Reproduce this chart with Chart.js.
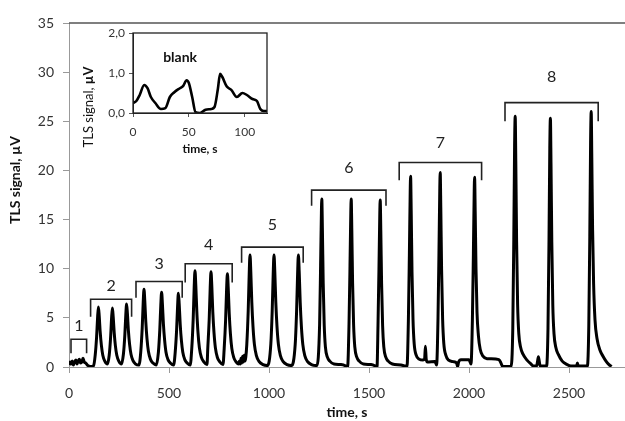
<!DOCTYPE html>
<html>
<head>
<meta charset="utf-8">
<script src="https://cdn.jsdelivr.net/npm/chart.js@4/dist/chart.umd.min.js"></script>
<style>
  body { margin: 0; background: #fff; }
  #wrap { position: relative; width: 625px; height: 421px; }
  #inset { position: absolute; left: 75px; top: 20px; }
</style>
</head>
<body>
<div id="wrap">
  <canvas id="main" width="625" height="421"></canvas>
  <canvas id="inset" width="200" height="140"></canvas>
</div>
<script>
// main trace, [time s, signal µV], one array per concentration group
const trace1 = [[0,0.2],[5,0.5],[10,0.3],[16,0.6],[22,0.2],[28,0.5],[35,0.7],[40,0.3],[46,0.6],[52,0.8],[58,0.4],[64,0.5],[70,0.9],[76,0.5],[84,0.4],[92,0.2],[100,0.1],[112,0.05],[123,0.15]];
const trace2 = [
  [131,1.2],[138,3.05],[143,5.05],[147,6.1],[151,5.2],[156,3.55],[162,2.2],[169,1.2],[179,0.6],[192,0.3],
  [201,1.2],[208,3.0],[213,5.0],[217,6.0],[221,5.1],[226,3.5],[232,2.15],[239,1.2],[249,0.6],[262,0.3],
  [272,1.3],[279,3.2],[284,5.3],[288,6.4],[292,5.45],[297,3.7],[303,2.3],[310,1.3],[320,0.65],[333,0.3],[350,0.2]];
const trace3 = [
  [359,1.6],[366,3.95],[371,6.55],[375,7.9],[379,6.7],[384,4.6],[390,2.85],[397,1.6],[407,0.8],[420,0.4],[436,0.2],
  [447,1.5],[454,3.8],[459,6.3],[463,7.6],[467,6.45],[472,4.4],[478,2.75],[485,1.5],[495,0.75],[508,0.38],[523,0.2],
  [531,1.5],[538,3.75],[543,6.2],[547,7.5],[551,6.4],[556,4.35],[562,2.7],[569,1.5],[579,0.75],[592,0.38],[606,0.2]];
const trace4 = [
  [614,1.95],[621,4.9],[626,8.15],[630,9.8],[634,8.3],[639,5.7],[645,3.5],[652,1.95],[662,0.98],[675,0.5],[690,0.25],
  [694,1.95],[701,4.85],[706,8.05],[710,9.7],[714,8.25],[719,5.6],[725,3.5],[732,1.95],[742,0.97],[755,0.5],[770,0.25],
  [776,1.9],[783,4.75],[788,7.9],[792,9.5],[796,8.1],[801,5.5],[807,3.4],[814,1.9],[824,0.95],[837,0.48],[848,0.3],
  [852,0.6],[856,0.3],[860,0.9],[864,0.4],[868,1.1],[872,0.5],[876,1.2],[880,0.6],[884,1.0]];
const trace5 = [
  [889,2.3],[896,5.7],[901,9.45],[905,11.4],[909,9.7],[914,6.6],[920,4.1],[927,2.3],[937,1.15],[950,0.57],[970,0.25],[993,0.15],
  [1009,2.3],[1016,5.7],[1021,9.45],[1025,11.4],[1029,9.7],[1034,6.6],[1040,4.1],[1047,2.3],[1057,1.15],[1070,0.57],[1090,0.25],[1113,0.15],
  [1131,2.3],[1138,5.7],[1143,9.45],[1147,11.4],[1151,9.7],[1156,6.6],[1162,4.1],[1169,2.3],[1179,1.15],[1192,0.57],[1212,0.25],[1240,0.15]];
const trace6 = [
  [1253,4.3],[1258,10.3],[1262,15.7],[1264,17.1],[1267,14.0],[1271,8.55],[1276,4.3],[1282,2.05],[1292,1.0],[1304,0.6],[1325,0.3],[1360,0.25],[1385,0.1],[1393,0.0],
  [1400,4.3],[1405,10.3],[1409,15.7],[1411,17.1],[1414,14.0],[1418,8.55],[1423,4.3],[1429,2.05],[1439,1.0],[1451,0.6],[1472,0.3],[1510,0.25],[1532,0.1],[1540,0.0],
  [1545,4.25],[1550,10.2],[1554,15.6],[1556,17.0],[1559,13.9],[1563,8.5],[1568,4.25],[1574,2.05],[1584,1.0],[1596,0.6],[1617,0.3],[1660,0.2],[1680,0.1],[1690,0.05]];
const trace7 = [
  [1697,4.85],[1702,11.6],[1706,17.8],[1708,19.4],[1711,15.9],[1715,9.7],[1720,4.85],[1726,2.35],[1736,1.2],[1750,0.8],[1770,0.7],[1778,0.8],[1782,2.1],[1786,0.8],[1792,0.5],[1830,0.55],[1838,0.2],
  [1845,4.95],[1850,11.9],[1854,18.2],[1856,19.8],[1859,16.2],[1863,9.9],[1868,4.95],[1874,2.4],[1884,1.2],[1898,0.7],[1920,0.55],[1938,0.4],[1943,0.05],[1948,0.5],[1960,0.75],[2000,0.75],[2010,0.3],
  [2017,4.8],[2022,11.6],[2026,17.8],[2028,19.3],[2031,15.8],[2035,10.0],[2040,5.6],[2047,3.2],[2056,1.8],[2070,1.1],[2090,0.85],[2150,0.75],[2160,0.4],[2168,0.05],[2210,0.05]];
const trace8 = [
  [2219,4.0],[2224,13.0],[2228,22.5],[2231,25.5],[2234,20.9],[2238,12.8],[2243,6.4],[2249,3.4],[2258,2.0],[2270,1.3],[2290,0.7],[2310,0.3],[2322,0.1],[2338,0.1],[2343,0.6],[2347,1.05],[2351,0.6],[2356,0.1],[2388,0.1],
  [2395,4.0],[2400,12.9],[2404,22.3],[2407,25.3],[2410,20.7],[2414,12.7],[2419,6.3],[2425,3.4],[2434,2.0],[2446,1.3],[2466,0.6],[2490,0.25],[2510,0.1],[2538,0.1],[2542,0.4],[2546,0.1],[2592,0.1],
  [2599,4.2],[2604,13.3],[2608,22.9],[2611,26.0],[2614,21.3],[2618,14.0],[2623,8.5],[2630,4.8],[2640,2.9],[2655,1.7],[2670,1.1],[2685,0.6],[2700,0.25],[2713,0.05]];

const xTickValues = [0, 500, 1000, 1500, 2000, 2500];

// brackets over each group: start/end time, top level, foot level, label level
const groupLabels  = ['1', '2', '3', '4', '5', '6', '7', '8'];
const bracketStart = [10, 108, 335, 581, 863, 1213, 1651, 2180];
const bracketEnd   = [88, 313, 566, 816, 1171, 1585, 2063, 2646];
const bracketTop   = [2.83, 6.9, 8.7, 10.5, 12.2, 18.0, 20.8, 26.9];
const bracketFoot  = [1.4, 5.1, 7.05, 8.6, 10.6, 16.4, 19.0, 25.0];
const labelLevel   = [4.2, 8.3, 10.5, 12.4, 14.5, 20.3, 22.8, 29.5];

// inset: blank run
const blankT = [0, 3, 6, 10, 13, 16, 20, 25, 29, 33, 37, 42, 45, 48, 50, 53, 56, 60, 65, 70, 73, 76, 78, 80, 84, 88, 93, 98, 102, 107, 111, 114, 117, 120];
const blankV = [0.25, 0.3, 0.45, 0.7, 0.62, 0.4, 0.25, 0.1, 0.12, 0.4, 0.52, 0.62, 0.68, 0.82, 0.75, 0.4, 0.02, 0.0, 0.08, 0.1, 0.15, 0.6, 0.98, 0.9, 0.66, 0.58, 0.4, 0.5, 0.45, 0.35, 0.3, 0.1, 0.05, 0.05];

const tickFont = { family: 'Lato', size: 14 };
const mainPoints = [...trace1, ...trace2, ...trace3, ...trace4, ...trace5, ...trace6, ...trace7, ...trace8]
  .map(([x, y]) => ({ x, y }));

const bracketPlugin = {
  id: 'brackets',
  afterDatasetsDraw(chart) {
    const { ctx, chartArea, scales: { x, y } } = chart;
    ctx.save();
    // top frame line
    ctx.strokeStyle = '#555';
    ctx.lineWidth = 1.5;
    ctx.beginPath();
    ctx.moveTo(chartArea.left, chartArea.top);
    ctx.lineTo(chartArea.right, chartArea.top);
    ctx.stroke();

    ctx.strokeStyle = '#222';
    ctx.lineWidth = 1.6;
    ctx.fillStyle = '#222';
    ctx.font = '16px Lato';
    ctx.textAlign = 'center';
    ctx.textBaseline = 'middle';
    groupLabels.forEach((lab, i) => {
      const x0 = x.getPixelForValue(bracketStart[i]);
      const x1 = x.getPixelForValue(bracketEnd[i]);
      const yt = y.getPixelForValue(bracketTop[i]);
      const yf = y.getPixelForValue(bracketFoot[i]);
      ctx.beginPath();
      ctx.moveTo(x0, yf);
      ctx.lineTo(x0, yt);
      ctx.lineTo(x1, yt);
      ctx.lineTo(x1, yf);
      ctx.stroke();
      ctx.fillText(lab, (x0 + x1) / 2, y.getPixelForValue(labelLevel[i]));
    });

    // y axis title, sitting a little above the middle as in the original
    ctx.translate(15, 180);
    ctx.rotate(-Math.PI / 2);
    ctx.fillStyle = '#111';
    ctx.font = 'bold 14px Lato';
    ctx.fillText('TLS signal, µV', 0, 0);
    ctx.restore();
  }
};

new Chart(document.getElementById('main'), {
  type: 'line',
  data: {
    datasets: [{
      data: mainPoints,
      borderColor: '#000',
      borderWidth: 3,
      pointRadius: 0,
      cubicInterpolationMode: 'monotone',
      fill: false,
    }],
  },
  options: {
    responsive: false,
    animation: false,
    layout: { padding: { top: 23, right: 0, left: 7, bottom: 0 } },
    plugins: { legend: { display: false }, tooltip: { enabled: false } },
    scales: {
      x: {
        type: 'linear',
        min: 0,
        max: 2780,
        afterBuildTicks: (s) => { s.ticks = xTickValues.map((v) => ({ value: v })); },
        ticks: { font: tickFont, color: '#333', padding: 12, maxRotation: 0, autoSkip: false, callback: (v) => String(v) },
        grid: { drawOnChartArea: false, tickLength: 6, color: '#999' },
        border: { color: '#999' },
        title: { display: true, text: 'time, s', font: { family: 'Lato', size: 14, weight: 'bold' }, color: '#111', padding: 0 },
        afterFit: (s) => { s.height = 54; },
      },
      y: {
        min: 0,
        max: 35,
        ticks: { stepSize: 5, font: tickFont, color: '#333', padding: 9 },
        grid: { drawOnChartArea: false, tickLength: 6, color: '#999' },
        border: { color: '#999' },
        afterFit: (s) => { s.width = 62; },
      },
    },
  },
  plugins: [bracketPlugin],
});

const insetPlugin = {
  id: 'insetDeco',
  afterDatasetsDraw(chart) {
    const { ctx, chartArea, scales: { x, y } } = chart;
    ctx.save();
    ctx.strokeStyle = '#222';
    ctx.lineWidth = 1.3;
    ctx.strokeRect(chartArea.left, chartArea.top, chartArea.right - chartArea.left, chartArea.bottom - chartArea.top);
    ctx.fillStyle = '#111';
    ctx.font = 'bold 14px Lato';
    ctx.textBaseline = 'middle';
    ctx.fillText('blank', x.getPixelForValue(27), y.getPixelForValue(1.38));
    // y title with bold unit
    ctx.translate(14, 87);
    ctx.rotate(-Math.PI / 2);
    ctx.font = '13px Lato';
    const a = 'TLS signal, ';
    const wa = ctx.measureText(a).width;
    ctx.font = 'bold 13px Lato';
    const b = 'µV';
    const wb = ctx.measureText(b).width;
    const start = -(wa + wb) / 2;
    ctx.textAlign = 'left';
    ctx.font = '13px Lato';
    ctx.fillText(a, start, 0);
    ctx.font = 'bold 13px Lato';
    ctx.fillText(b, start + wa, 0);
    ctx.restore();
  }
};

new Chart(document.getElementById('inset'), {
  type: 'line',
  data: {
    datasets: [{
      data: blankT.map((t, i) => ({ x: t, y: blankV[i] })),
      borderColor: '#000',
      borderWidth: 2.6,
      pointRadius: 0,
      cubicInterpolationMode: 'monotone',
      fill: false,
    }],
  },
  options: {
    responsive: false,
    animation: false,
    layout: { padding: { top: 13, right: 8, left: 0, bottom: 4 } },
    plugins: { legend: { display: false }, tooltip: { enabled: false } },
    scales: {
      x: {
        type: 'linear',
        min: 0,
        max: 120,
        ticks: { stepSize: 50, includeBounds: false, font: { family: 'Lato', size: 12 }, color: '#333', padding: 8, maxRotation: 0 },
        grid: { drawOnChartArea: false, tickLength: 4, color: '#555' },
        border: { color: '#222' },
        title: { display: true, text: 'time, s', font: { family: 'Lato', size: 12, weight: 'bold' }, color: '#111', padding: 0 },
        afterFit: (s) => { s.height = 43; },
      },
      y: {
        min: 0,
        max: 2,
        ticks: { stepSize: 1, font: { family: 'Lato', size: 12 }, color: '#333', padding: 4,
          callback: (v) => v.toFixed(1).replace('.', ',') },
        grid: { drawOnChartArea: false, tickLength: 4, color: '#555' },
        border: { color: '#222' },
        afterFit: (s) => { s.width = 58; },
      },
    },
  },
  plugins: [insetPlugin],
});
</script>
</body>
</html>
